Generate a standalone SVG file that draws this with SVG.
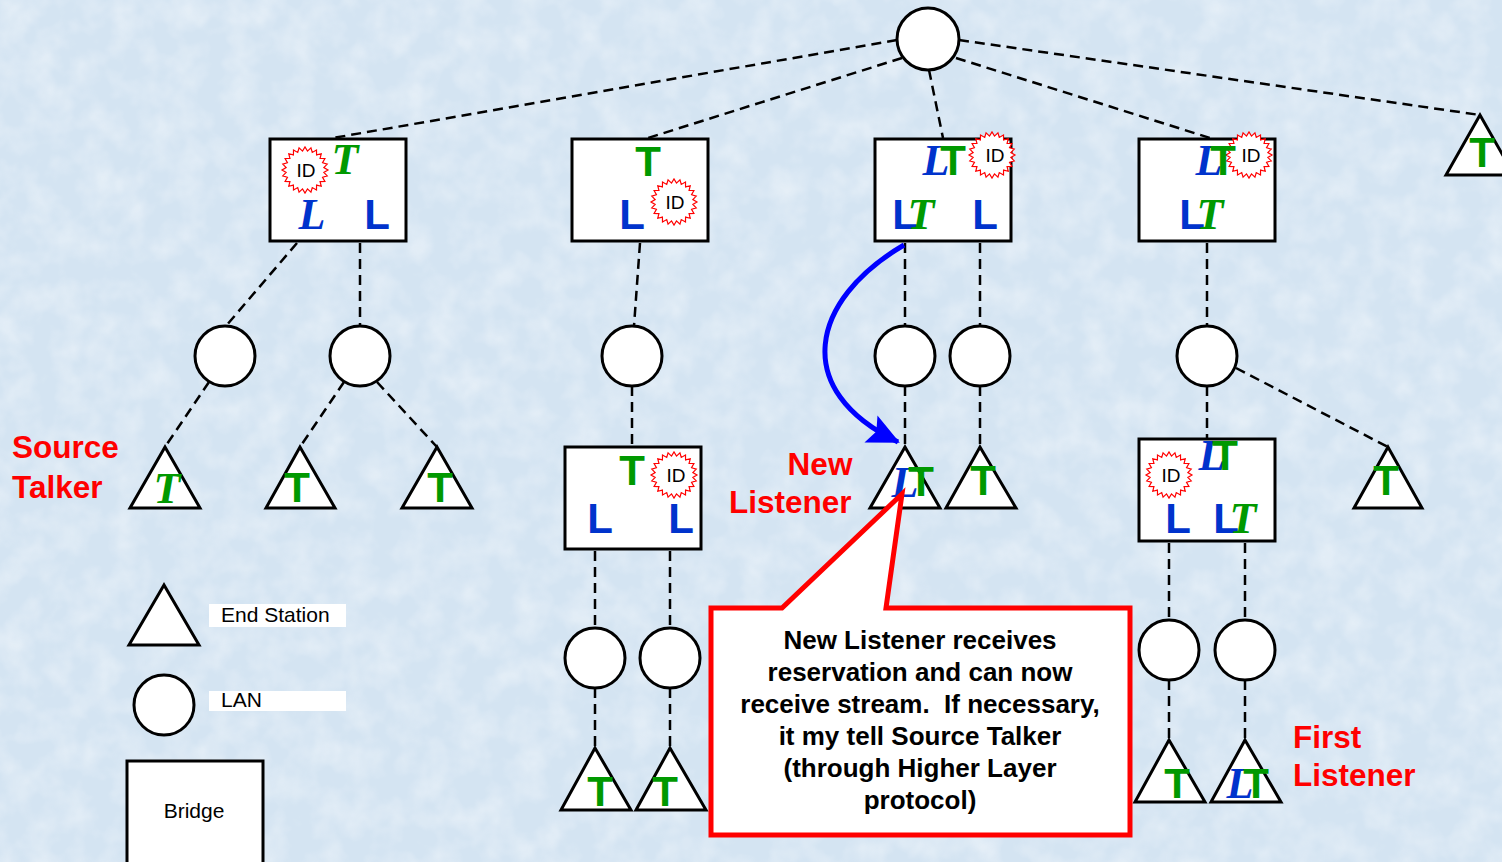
<svg xmlns="http://www.w3.org/2000/svg" width="1502" height="862" viewBox="0 0 1502 862">
<defs>
<filter id="tex" x="0" y="0" width="100%" height="100%">
<feTurbulence type="fractalNoise" baseFrequency="0.035" numOctaves="3" seed="4" result="n"/>
<feColorMatrix in="n" type="matrix" values="0 0 0 0 1  0 0 0 0 1  0 0 0 0 1  0 0 0 -1.4 0.9"/>
</filter>
<polygon id="burst" fill="#ffffff" stroke="#ff0000" stroke-width="1.2" points="23,0 18.84,2.48 22.22,5.95 17.55,7.27 19.92,11.5 15.07,11.57 16.26,16.26 11.57,15.07 11.5,19.92 7.27,17.55 5.95,22.22 2.48,18.84 0,23 -2.48,18.84 -5.95,22.22 -7.27,17.55 -11.5,19.92 -11.57,15.07 -16.26,16.26 -15.07,11.57 -19.92,11.5 -17.55,7.27 -22.22,5.95 -18.84,2.48 -23,0 -18.84,-2.48 -22.22,-5.95 -17.55,-7.27 -19.92,-11.5 -15.07,-11.57 -16.26,-16.26 -11.57,-15.07 -11.5,-19.92 -7.27,-17.55 -5.95,-22.22 -2.48,-18.84 0,-23 2.48,-18.84 5.95,-22.22 7.27,-17.55 11.5,-19.92 11.57,-15.07 16.26,-16.26 15.07,-11.57 19.92,-11.5 17.55,-7.27 22.22,-5.95 18.84,-2.48"/>
<marker id="ah" markerUnits="userSpaceOnUse" markerWidth="40" markerHeight="40" refX="30" refY="15" orient="auto">
<polygon points="0,0 32,15 0,30 6,15" fill="#0000ff"/>
</marker>
</defs>
<style>
.bg{fill:#d4e4f2}
.lan{fill:#ffffff;stroke:#000;stroke-width:3}
.br{fill:#ffffff;stroke:#000;stroke-width:3}
.es{fill:#ffffff;stroke:#000;stroke-width:3;stroke-linejoin:miter}
.dash{fill:none;stroke:#000;stroke-width:2.5;stroke-dasharray:10,6}
.Ts{font-family:"Liberation Sans",Arial,sans-serif;font-weight:bold;font-size:42px;fill:#009900;text-anchor:middle}
.Ti{font-family:"Liberation Serif","Times New Roman",serif;font-style:italic;font-weight:bold;font-size:44px;fill:#009900;text-anchor:middle}
.Ls{font-family:"Liberation Sans",Arial,sans-serif;font-weight:bold;font-size:42px;fill:#0033cc;text-anchor:middle}
.Li{font-family:"Liberation Serif","Times New Roman",serif;font-style:italic;font-weight:bold;font-size:44px;fill:#0033cc;text-anchor:middle}
.id{font-family:"Liberation Sans",Arial,sans-serif;font-size:19px;fill:#000;text-anchor:middle}
.red{font-family:"Liberation Sans",Arial,sans-serif;font-weight:bold;font-size:31.5px;fill:#ff0000}
.leg{font-family:"Liberation Sans",Arial,sans-serif;font-size:21px;fill:#000}
.call{font-family:"Liberation Sans",Arial,sans-serif;font-weight:bold;font-size:26px;fill:#000;text-anchor:middle}
</style>
<rect class="bg" x="0" y="0" width="1502" height="862"/>
<rect x="0" y="0" width="1502" height="862" fill="#ffffff" filter="url(#tex)" opacity="0.5"/>

<g id="connectors">
<line class="dash" x1="897" y1="40" x2="333" y2="138"/>
<line class="dash" x1="902" y1="58" x2="648" y2="138"/>
<line class="dash" x1="929" y1="70" x2="943" y2="138"/>
<line class="dash" x1="956" y1="58" x2="1210" y2="138"/>
<line class="dash" x1="959" y1="40" x2="1480" y2="115"/>
<line class="dash" x1="297" y1="243" x2="226" y2="326"/>
<line class="dash" x1="360" y1="243" x2="360" y2="326"/>
<line class="dash" x1="640" y1="243" x2="634" y2="326"/>
<line class="dash" x1="905" y1="243" x2="905" y2="326"/>
<line class="dash" x1="980" y1="243" x2="980" y2="326"/>
<line class="dash" x1="1207" y1="243" x2="1207" y2="326"/>
<line class="dash" x1="209" y1="382" x2="165" y2="447"/>
<line class="dash" x1="344" y1="382" x2="300" y2="447"/>
<line class="dash" x1="377" y1="382" x2="437" y2="447"/>
<line class="dash" x1="632" y1="386" x2="632" y2="447"/>
<line class="dash" x1="905" y1="386" x2="905" y2="447"/>
<line class="dash" x1="980" y1="386" x2="980" y2="447"/>
<line class="dash" x1="1207" y1="386" x2="1207" y2="439"/>
<line class="dash" x1="1236" y1="368" x2="1388" y2="447"/>
<line class="dash" x1="595" y1="551" x2="595" y2="628"/>
<line class="dash" x1="670" y1="551" x2="670" y2="628"/>
<line class="dash" x1="595" y1="688" x2="595" y2="748"/>
<line class="dash" x1="670" y1="688" x2="670" y2="748"/>
<line class="dash" x1="1169" y1="543" x2="1169" y2="620"/>
<line class="dash" x1="1245" y1="543" x2="1245" y2="620"/>
<line class="dash" x1="1169" y1="680" x2="1169" y2="740"/>
<line class="dash" x1="1245" y1="680" x2="1245" y2="740"/>
</g>

<g id="lan-top"><circle class="lan" cx="928" cy="39" r="31"/></g>

<g id="bridge1">
<rect class="br" x="270" y="139" width="136" height="102"/>
<use href="#burst" x="305" y="170"/>
<text class="id" x="306" y="177">ID</text>
<text class="Ti" x="345" y="174">T</text>
<text class="Li" x="312" y="229">L</text>
<text class="Ls" x="377" y="229">L</text>
</g>
<g id="bridge2">
<rect class="br" x="572" y="139" width="136" height="102"/>
<text class="Ts" x="648" y="176">T</text>
<use href="#burst" x="674" y="202"/>
<text class="id" x="675" y="209">ID</text>
<text class="Ls" x="632" y="229">L</text>
</g>
<g id="bridge3">
<rect class="br" x="875" y="139" width="136" height="102"/>
<use href="#burst" x="992" y="155"/>
<text class="id" x="995" y="162">ID</text>
<text class="Li" x="936" y="175">L</text>
<text class="Ts" x="953" y="175">T</text>
<text class="Ls" x="905" y="229">L</text>
<text class="Ti" x="921" y="229">T</text>
<text class="Ls" x="985" y="229">L</text>
</g>
<g id="bridge4">
<rect class="br" x="1139" y="139" width="136" height="102"/>
<use href="#burst" x="1249" y="155"/>
<text class="id" x="1251" y="162">ID</text>
<text class="Li" x="1209" y="175">L</text>
<text class="Ts" x="1223" y="175">T</text>
<text class="Ls" x="1192" y="229">L</text>
<text class="Ti" x="1210" y="229">T</text>
</g>
<g id="es-top-right">
<polygon class="es" points="1480,115 1446,175 1514,175"/>
<text class="Ts" x="1482" y="167">T</text>
</g>

<g id="lan-a"><circle class="lan" cx="225" cy="356" r="30"/></g>
<g id="lan-b"><circle class="lan" cx="360" cy="356" r="30"/></g>
<g id="lan-c"><circle class="lan" cx="632" cy="356" r="30"/></g>
<g id="lan-d"><circle class="lan" cx="905" cy="356" r="30"/></g>
<g id="lan-e"><circle class="lan" cx="980" cy="356" r="30"/></g>
<g id="lan-f"><circle class="lan" cx="1207" cy="356" r="30"/></g>

<g id="es-source">
<polygon class="es" points="165,447 130,508 200,508"/>
<text class="Ti" x="167" y="503">T</text>
</g>
<g id="es-2">
<polygon class="es" points="300,447 266,508 335,508"/>
<text class="Ts" x="297" y="502">T</text>
</g>
<g id="es-3">
<polygon class="es" points="437,447 402,508 472,508"/>
<text class="Ts" x="440" y="502">T</text>
</g>
<g id="bridge5">
<rect class="br" x="565" y="447" width="136" height="102"/>
<text class="Ts" x="632" y="485">T</text>
<use href="#burst" x="674" y="475"/>
<text class="id" x="676" y="482">ID</text>
<text class="Ls" x="600" y="533">L</text>
<text class="Ls" x="681" y="533">L</text>
</g>
<g id="es-new-listener">
<polygon class="es" points="905,447 870,508 940,508"/>
<text class="Li" x="905" y="497">L</text>
<text class="Ts" x="921" y="496">T</text>
</g>
<g id="es-5">
<polygon class="es" points="980,447 946,508 1016,508"/>
<text class="Ts" x="983" y="495">T</text>
</g>
<g id="bridge6">
<rect class="br" x="1139" y="439" width="136" height="102"/>
<use href="#burst" x="1169" y="475"/>
<text class="id" x="1171" y="482">ID</text>
<text class="Li" x="1212" y="470">L</text>
<text class="Ts" x="1225" y="470">T</text>
<text class="Ls" x="1178" y="533">L</text>
<text class="Ls" x="1226" y="533">L</text>
<text class="Ti" x="1243" y="533">T</text>
</g>
<g id="es-6">
<polygon class="es" points="1388,447 1354,508 1422,508"/>
<text class="Ts" x="1386" y="495">T</text>
</g>

<g id="lan-g"><circle class="lan" cx="595" cy="658" r="30"/></g>
<g id="lan-h"><circle class="lan" cx="670" cy="658" r="30"/></g>
<g id="lan-i"><circle class="lan" cx="1169" cy="650" r="30"/></g>
<g id="lan-j"><circle class="lan" cx="1245" cy="650" r="30"/></g>

<g id="es-7">
<polygon class="es" points="595,748 561,810 631,810"/>
<text class="Ts" x="600" y="806">T</text>
</g>
<g id="es-8">
<polygon class="es" points="670,748 636,810 706,810"/>
<text class="Ts" x="665" y="806">T</text>
</g>
<g id="es-9">
<polygon class="es" points="1169,740 1135,802 1205,802"/>
<text class="Ts" x="1177" y="798">T</text>
</g>
<g id="es-first-listener">
<polygon class="es" points="1245,740 1211,802 1281,802"/>
<text class="Li" x="1240" y="798">L</text>
<text class="Ts" x="1256" y="798">T</text>
</g>

<g id="blue-arrow">
<path d="M 904 245 C 810 300, 790 390, 898 442" fill="none" stroke="#0000ff" stroke-width="5" marker-end="url(#ah)"/>
</g>

<g id="callout">
<polygon points="711,608 782,608 902,494 886,608 1130,608 1130,835 711,835" fill="#ffffff" stroke="#ff0000" stroke-width="5" stroke-linejoin="miter"/>
<text class="call" x="920" y="649">New Listener receives</text>
<text class="call" x="920" y="681">reservation and can now</text>
<text class="call" x="920" y="713" xml:space="preserve">receive stream.  If necessary,</text>
<text class="call" x="920" y="745">it my tell Source Talker</text>
<text class="call" x="920" y="777">(through Higher Layer</text>
<text class="call" x="920" y="809">protocol)</text>
</g>

<g id="labels">
<text class="red" x="12" y="458">Source</text>
<text class="red" x="12" y="498">Talker</text>
<text class="red" x="820" y="475" text-anchor="middle">New</text>
<text class="red" x="729" y="513">Listener</text>
<text class="red" x="1293" y="748">First</text>
<text class="red" x="1293" y="786">Listener</text>
</g>

<g id="legend">
<polygon class="es" points="164,585 129,645 199,645"/>
<rect x="209" y="604" width="137" height="23" fill="#ffffff"/>
<text class="leg" x="221" y="622">End Station</text>
<circle class="lan" cx="164" cy="705" r="30"/>
<rect x="209" y="691" width="137" height="20" fill="#ffffff"/>
<text class="leg" x="221" y="707">LAN</text>
<rect class="br" x="127" y="761" width="136" height="110"/>
<text class="leg" x="194" y="818" text-anchor="middle">Bridge</text>
</g>
</svg>
